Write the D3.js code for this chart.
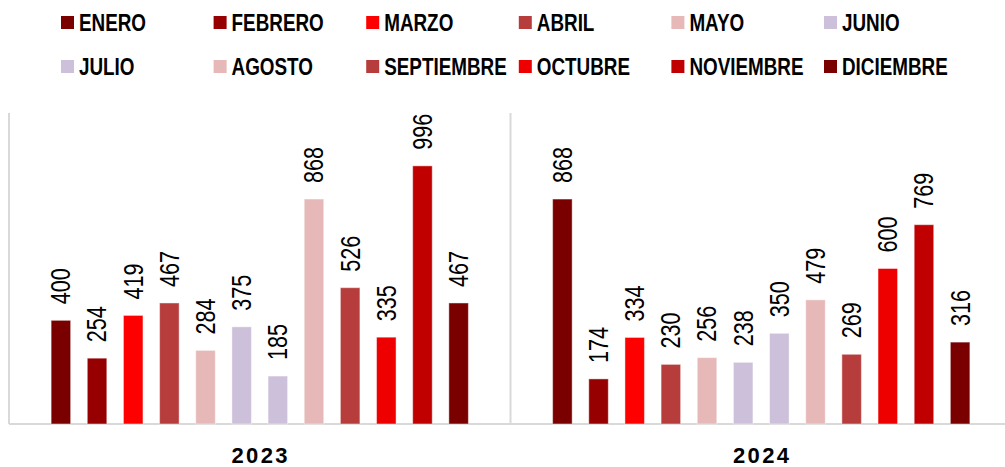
<!DOCTYPE html>
<html>
<head>
<meta charset="utf-8">
<script src="https://cdn.jsdelivr.net/npm/d3@7"></script>
<style>
  body { margin: 0; background: #fff; }
  svg { display: block; }
</style>
</head>
<body>
<div id="chart"></div>
<script>
  const years = ["2023", "2024"];
  const months = ["ENERO", "FEBRERO", "MARZO", "ABRIL", "MAYO", "JUNIO",
    "JULIO", "AGOSTO", "SEPTIEMBRE", "OCTUBRE", "NOVIEMBRE", "DICIEMBRE"];
  const values2023 = [400, 254, 419, 467, 284, 375, 185, 868, 526, 335, 996, 467];
  const values2024 = [868, 174, 334, 230, 256, 238, 350, 479, 269, 600, 769, 316];
  const monthColors = ["#7a0000", "#960000", "#ff0000", "#b73d3d", "#e6b8b7", "#ccc0da",
    "#ccc0da", "#e6b8b7", "#b73d3d", "#ee0000", "#c00000", "#7a0000"];

  const width = 1005, height = 467;
  // no narrow font installed: squeeze Liberation Sans horizontally instead
  const font = "'Liberation Sans', Arial, sans-serif";

  const svg = d3.select("#chart").append("svg")
    .attr("width", width)
    .attr("height", height);

  const data = years.map((y, i) => ({
    year: y,
    values: (i === 0 ? values2023 : values2024).map((v, j) => ({ month: months[j], value: v }))
  }));

  const x0 = d3.scaleBand().domain(years).range([9, 1012]);
  const x1 = d3.scaleBand().domain(months).range([0, x0.bandwidth()])
    .paddingInner(0.46).paddingOuter(1.165);
  const y = d3.scaleLinear().domain([0, 1200]).range([424, 113]);
  const color = d3.scaleOrdinal().domain(months).range(monthColors);

  // axis frame lines
  const grid = svg.append("g").attr("stroke", "#d9d9d9").attr("stroke-width", 2);
  grid.append("line").attr("x1", 9).attr("x2", 9).attr("y1", y(1200)).attr("y2", y(0));
  grid.append("line").attr("x1", x0("2024")).attr("x2", x0("2024")).attr("y1", y(1200)).attr("y2", y(0));
  grid.append("line").attr("x1", 9).attr("x2", width).attr("y1", y(0)).attr("y2", y(0));

  const group = svg.append("g").selectAll("g")
    .data(data)
    .join("g")
    .attr("transform", d => `translate(${x0(d.year)},0)`);

  group.selectAll("rect")
    .data(d => d.values)
    .join("rect")
    .attr("x", d => x1(d.month))
    .attr("y", d => y(d.value))
    .attr("width", x1.bandwidth())
    .attr("height", d => y(0) - y(d.value))
    .attr("fill", d => color(d.month))
    .attr("stroke", "rgba(255,255,255,0.45)")
    .attr("stroke-width", 1);

  group.selectAll("text.val")
    .data(d => d.values)
    .join("text")
    .attr("class", "val")
    .attr("transform", d => `translate(${x1(d.month) + x1.bandwidth() / 2},${y(d.value) - 16}) rotate(-90) scale(0.8,1)`)
    .attr("dy", "0.35em")
    .attr("fill", "#000")
    .style("font-family", font)
    .style("font-size", "27px")
    .text(d => d.value);

  // year labels
  svg.append("g").selectAll("text")
    .data(years)
    .join("text")
    .attr("x", d => x0(d) + x0.bandwidth() / 2 + 1)
    .attr("y", 463)
    .attr("text-anchor", "middle")
    .attr("fill", "#000")
    .style("font-family", font)
    .style("font-weight", "bold")
    .style("font-size", "22px")
    .style("letter-spacing", "2.4px")
    .text(d => d);

  // legend
  const legend = svg.append("g").selectAll("g")
    .data(months)
    .join("g")
    .attr("transform", (d, i) => `translate(${61 + (i % 6) * 152.6},${i < 6 ? 16 : 60})`);

  legend.append("rect")
    .attr("width", 13)
    .attr("height", 13)
    .attr("fill", d => color(d));

  legend.append("text")
    .attr("transform", "translate(18,14.7) scale(0.82,1)")
    .attr("fill", "#000")
    .style("font-family", font)
    .style("font-weight", "bold")
    .style("font-size", "23px")
    .text(d => d);
</script>
</body>
</html>
